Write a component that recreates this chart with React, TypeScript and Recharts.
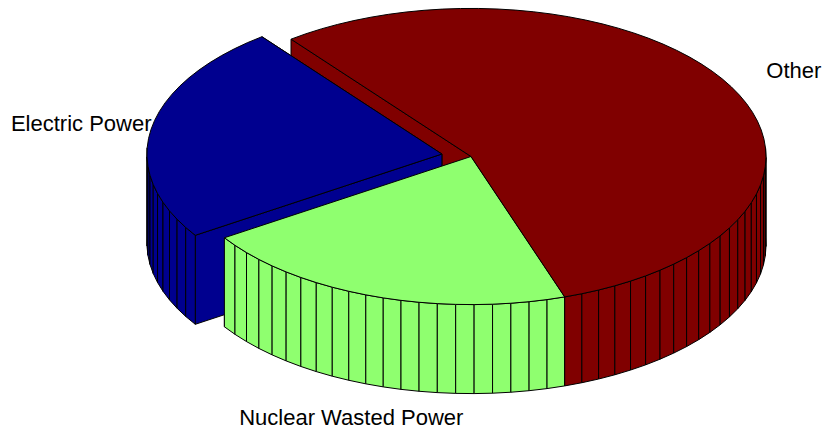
import React from 'react';
import { PieChart, Pie } from 'recharts';

// Slice data
const sliceNames = ['Electric Power', 'Nuclear Wasted Power', 'Other'];
const sliceValues = [23.8, 20.9, 55.3];
const sliceColors = ['#00008F', '#8FFF6F', '#800000'];
const sliceExploded = [true, false, false];

const pieData = sliceNames.map((name, i) => ({ name, value: sliceValues[i] }));

// Layout of the tilted pie
const CHART_W = 827;
const CHART_H = 430;
const CENTER_X = 471;
const CENTER_Y = 156.5;
const RADIUS = 295;
const TILT = 0.502; // vertical squash of the top face (30 degree elevation)
const THICKNESS = 89; // on-screen height of the pie's side wall
const EXPLODE = 0.1; // offset of an exploded slice, as a fraction of the radius
const LABEL_RADIUS = 1.24;
const FACETS_PER_TURN = 100;
const START_ANGLE = 127.6;

const EDGE = '#000';
const EDGE_W = 1;
const FONT = '"Liberation Sans", Arial, Helvetica, sans-serif';
const FONT_SIZE = 22;

type Pt = [number, number];

const toRad = (d: number) => (d * Math.PI) / 180;

const rim = (cx: number, cy: number, r: number, deg: number, drop = 0): Pt => [
  cx + r * Math.cos(toRad(deg)),
  cy - r * TILT * Math.sin(toRad(deg)) + drop,
];

const pts = (list: Pt[]) => list.map((p) => `${p[0].toFixed(2)},${p[1].toFixed(2)}`).join(' ');

function sliceGeometry(props: any) {
  const { cx, cy, outerRadius, startAngle, endAngle, index } = props;
  const mid = (startAngle + endAngle) / 2;
  let ox = cx;
  let oy = cy;
  if (sliceExploded[index]) {
    const [ex, ey] = rim(0, 0, EXPLODE * outerRadius, mid);
    ox += ex;
    oy += ey;
  }
  const span = endAngle - startAngle;
  const n = Math.max(1, Math.ceil((FACETS_PER_TURN * Math.abs(span)) / 360 - 1e-9));
  const angles = Array.from({ length: n + 1 }, (_, k) => startAngle + (span * k) / n);
  return { ox, oy, r: outerRadius, mid, angles, color: sliceColors[index] };
}

// Flat radial faces on both straight edges of a slice
const renderRadialFaces = (exploded: boolean) => (props: any) => {
  if (!!sliceExploded[props.index] !== exploded) return <g />;
  const g = sliceGeometry(props);
  const edgeAngles = [g.angles[0], g.angles[g.angles.length - 1]];
  return (
    <g>
      {edgeAngles.map((a, i) => {
        const quad: Pt[] = [
          [g.ox, g.oy],
          rim(g.ox, g.oy, g.r, a),
          rim(g.ox, g.oy, g.r, a, THICKNESS),
          [g.ox, g.oy + THICKNESS],
        ];
        return (
          <polygon
            key={i}
            points={pts(quad)}
            fill={g.color}
            stroke={EDGE}
            strokeWidth={EDGE_W}
            strokeLinejoin="round"
          />
        );
      })}
    </g>
  );
};

// Outer curved wall, built from flat facets; only the front-facing ones
const renderWalls = (props: any) => {
  const g = sliceGeometry(props);
  const facets: React.ReactNode[] = [];
  for (let k = 0; k < g.angles.length - 1; k++) {
    const a0 = g.angles[k];
    const a1 = g.angles[k + 1];
    if (Math.sin(toRad(a0)) >= -1e-6 && Math.sin(toRad(a1)) >= -1e-6) continue;
    const quad: Pt[] = [
      rim(g.ox, g.oy, g.r, a0),
      rim(g.ox, g.oy, g.r, a1),
      rim(g.ox, g.oy, g.r, a1, THICKNESS),
      rim(g.ox, g.oy, g.r, a0, THICKNESS),
    ];
    facets.push(
      <polygon
        key={k}
        points={pts(quad)}
        fill={g.color}
        stroke={EDGE}
        strokeWidth={EDGE_W}
        strokeLinejoin="round"
      />
    );
  }
  return <g>{facets}</g>;
};

// Top face of each slice and its name
const renderTops = (props: any) => {
  const g = sliceGeometry(props);
  const outline: Pt[] = [[g.ox, g.oy], ...g.angles.map((a) => rim(g.ox, g.oy, g.r, a))];
  const front = Math.sin(toRad(g.mid)) < 0;
  const [lx, ly] = rim(g.ox, g.oy, g.r * LABEL_RADIUS, g.mid, front ? THICKNESS : 0);
  // baseline, kept so the text's descent stays inside the chart
  const baseline = Math.min(ly + 0.36 * FONT_SIZE, CHART_H - 0.25 * FONT_SIZE);
  return (
    <g>
      <polygon
        points={pts(outline)}
        fill={g.color}
        stroke={EDGE}
        strokeWidth={EDGE_W}
        strokeLinejoin="round"
      />
      <text
        x={lx}
        y={baseline}
        textAnchor="middle"
        fontFamily={FONT}
        fontSize={FONT_SIZE}
        fill="#000"
      >
        {sliceNames[props.index]}
      </text>
    </g>
  );
};

export default function App() {
  const common = {
    data: pieData,
    dataKey: 'value',
    nameKey: 'name',
    cx: CENTER_X,
    cy: CENTER_Y,
    innerRadius: 0,
    outerRadius: RADIUS,
    startAngle: START_ANGLE,
    endAngle: START_ANGLE + 360,
    paddingAngle: 0,
    fill: 'none',
    stroke: 'none',
    isAnimationActive: false,
    labelLine: false,
    legendType: 'none' as const,
  };
  return (
    <div
      style={{
        position: 'absolute',
        left: 0,
        top: 0,
        width: CHART_W,
        height: CHART_H,
        background: '#fff',
      }}
    >
      <PieChart width={CHART_W} height={CHART_H} margin={{ top: 0, right: 0, bottom: 0, left: 0 }}>
        <Pie {...common} label={renderRadialFaces(false)} />
        <Pie {...common} label={renderRadialFaces(true)} />
        <Pie {...common} label={renderWalls} />
        <Pie {...common} label={renderTops} />
      </PieChart>
    </div>
  );
}
